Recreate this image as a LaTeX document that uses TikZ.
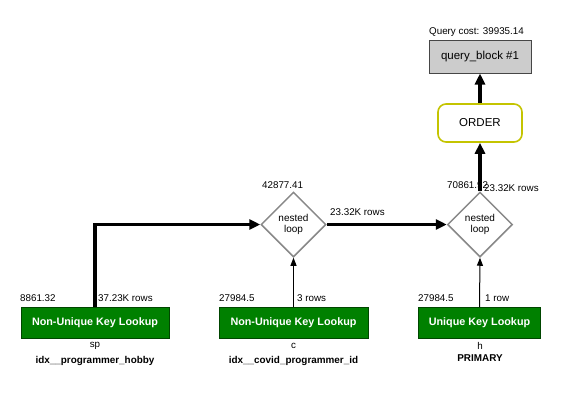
\documentclass[tikz,border=0pt]{standalone}
\usepackage{fontspec}
\setmainfont{Liberation Sans}
\usetikzlibrary{shapes.geometric,arrows.meta}
\definecolor{gfill}{RGB}{0,128,0}
\definecolor{gdraw}{RGB}{0,70,0}
\definecolor{qfill}{RGB}{204,204,204}
\definecolor{qdraw}{RGB}{70,70,70}
\definecolor{odraw}{RGB}{196,196,0}
\definecolor{ddraw}{RGB}{136,136,136}
\begin{document}
\begin{tikzpicture}[x=1pt,y=-1pt,
  lbl/.style={font=\fontsize{9.8}{11}\selectfont, inner sep=0pt},
  blbl/.style={font=\bfseries\fontsize{9.9}{11}\selectfont, inner sep=0pt},
  qbox/.style={draw=qdraw, fill=qfill, line width=1pt, minimum width=102pt, minimum height=33pt, inner sep=0pt, font=\fontsize{11.5}{13}\selectfont},
  obox/.style={draw=odraw, fill=white, line width=1.6pt, rounded corners=8pt, minimum width=84pt, minimum height=38pt, inner sep=0pt, font=\fontsize{11.5}{13}\selectfont},
  dia/.style={diamond, draw=ddraw, fill=white, line width=1.5pt, minimum width=65pt, minimum height=65pt, inner sep=0pt, align=center, font=\fontsize{10}{10.5}\selectfont},
  gbox/.style={draw=gdraw, fill=gfill, line width=0.8pt, minimum height=31pt, inner sep=0pt, text=white, font=\bfseries\fontsize{10.8}{12}\selectfont},
  fat/.style={line width=3.5pt, -{Triangle[length=11pt,width=10pt]}},
  thin/.style={line width=1pt, -{Triangle[length=8pt,width=6pt]}}
]
\useasboundingbox[fill=white] (0,0) rectangle (582,418);

\node[qbox] (qb) at (480,56.5) {query\_block \#1};
\node[lbl, anchor=west] (qc) at (429,32.5) {Query cost: 39935.14};
\node[obox] (ord) at (480,123) {ORDER};

\node[dia] (nl1) at (293.5,224.5) {nested\\loop};
\node[dia] (nl2) at (480,224.5) {nested\\loop};

\node[gbox, minimum width=148pt] (b1) at (95,323) {Non-Unique Key Lookup};
\node[gbox, minimum width=149pt] (b2) at (293.5,323) {Non-Unique Key Lookup};
\node[gbox, minimum width=122pt] (b3) at (479.5,323) {Unique Key Lookup};

\draw[fat] (b1.north) |- (nl1.west);
\draw[thin] (b2.north) -- (nl1.south);
\draw[fat] (nl1.east) -- (nl2.west);
\draw[thin] (b3.north) -- (nl2.south);
\draw[fat] (nl2.north) -- (ord.south);
\draw[fat] (ord.north) -- (qb.south);

\node[lbl, anchor=west] (c1) at (262,185) {42877.41};
\node[lbl, anchor=west] (c2) at (447,185) {70861.92};
\node[lbl, anchor=west] (r2) at (484,188) {23.32K rows};
\node[lbl, anchor=west] (r1) at (330,212.5) {23.32K rows};

\node[lbl, anchor=west] (cb1) at (20,298) {8861.32};
\node[lbl, anchor=west] (rb1) at (98,298) {37.23K rows};
\node[lbl, anchor=west] (cb2) at (219,298) {27984.5};
\node[lbl, anchor=west] (rb2) at (297,298) {3 rows};
\node[lbl, anchor=west] (cb3) at (418,298) {27984.5};
\node[lbl, anchor=west] (rb3) at (485,298) {1 row};

\node[lbl] (t1) at (95,346) {sp};
\node[blbl] (k1) at (95,360.5) {idx\_\_programmer\_hobby};
\node[lbl] (t2) at (293.5,346) {c};
\node[blbl] (k2) at (293.5,360.5) {idx\_\_covid\_programmer\_id};
\node[lbl] (t3) at (480,346) {h};
\node[blbl] (k3) at (480,358.5) {PRIMARY};
\end{tikzpicture}
\end{document}
